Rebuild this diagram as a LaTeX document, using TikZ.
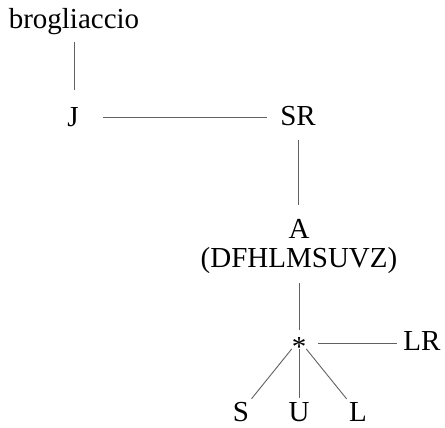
\documentclass[tikz,border=0pt]{standalone}
\usepackage{fontspec}
\setmainfont{Liberation Serif}
\begin{document}
\begin{tikzpicture}[x=1pt,y=-1pt,
  lbl/.style={inner sep=0pt, outer sep=0pt, anchor=base, font=\fontsize{29}{31}\selectfont},
  conn/.style={draw=black!62, line width=0.9pt}]
\path[use as bounding box] (0,0) rectangle (445,428);
\node[lbl] (brog) at (74,29) {brogliaccio};
\node[lbl] (J) at (73,127) {J};
\node[lbl] (SR) at (298,125) {SR};
\node[lbl] (A) at (299,238) {A};
\node[lbl] (dfh) at (299,267) {(DFHLMSUVZ)};
\node[lbl, anchor=center] (star) at (299,343) {\raisebox{-0.265em}[0.41em][0pt]{*}};
\node[lbl] (LR) at (422,350) {LR};
\node[lbl] (S) at (241,421) {S};
\node[lbl] (U) at (299,421) {U};
\node[lbl] (L) at (358,421) {L};
\draw[conn, shorten <=7pt, shorten >=18pt] (brog.south) -- (brog.south |- J.north);
\draw[conn, shorten <=24pt, shorten >=13pt] (J.east) -- (J.east -| SR.west);
\draw[conn, shorten <=15pt, shorten >=14pt] (SR.south) -- (SR.south |- A.north);
\draw[conn, shorten <=10pt, shorten >=7pt] (dfh.south) -- (star.north);
\draw[conn, shorten <=12pt, shorten >=6pt] (star.east) -- (star.east -| LR.west);
\draw[conn, shorten <=0pt, shorten >=4pt] (star.south west) -- (S.north east);
\draw[conn, shorten <=0pt, shorten >=4pt] (star.south) -- (U.north);
\draw[conn, shorten <=0pt, shorten >=4pt] (star.south east) -- (L.north west);
\end{tikzpicture}
\end{document}
